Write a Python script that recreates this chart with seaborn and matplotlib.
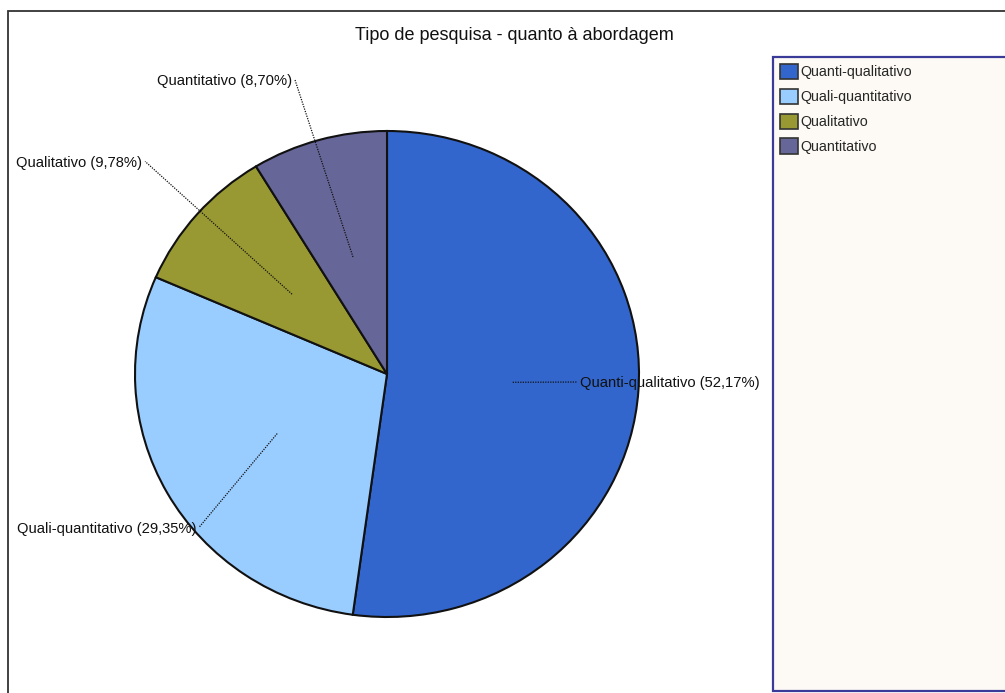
import matplotlib
matplotlib.use("Agg")
import matplotlib.pyplot as plt
from matplotlib.patches import Rectangle
import numpy as np
import seaborn as sns

sns.set_theme(style="white")
plt.rcParams["font.family"] = ["Liberation Sans", "DejaVu Sans"]

# Data
categories = ["Quanti-qualitativo", "Quali-quantitativo", "Qualitativo", "Quantitativo"]
percentages = [52.17, 29.35, 9.78, 8.70]
colors = ["#3366CC", "#99CCFF", "#999933", "#666699"]
title = "Tipo de pesquisa - quanto à abordagem"

# Label text anchors (axes data units, pie radius = 1) and alignment
label_pos = [(0.755, -0.033), (-0.745, -0.63), (-0.96, 0.875), (-0.365, 1.21)]
label_ha = ["left", "right", "right", "right"]

W, H = 1005, 693
fig = plt.figure(figsize=(W / 100, H / 100), dpi=100)
fig.patch.set_facecolor("white")

# Outer frame (left and top edges visible)
fig.add_artist(Rectangle((8 / W, -0.05), 1.1, (H - 11) / H + 0.05,
                         transform=fig.transFigure, fill=False,
                         edgecolor="#333333", linewidth=1.3))

# Pie axes: radius maps to ~252 px horizontally, ~243 px vertically
cx, cy, rx, ry = 387, 374, 252, 243
ax = fig.add_axes([(cx - rx) / W, (H - cy - ry) / H, 2 * rx / W, 2 * ry / H])
wedges, _ = ax.pie(percentages, colors=colors, startangle=90, counterclock=False,
                   wedgeprops=dict(edgecolor="#111111", linewidth=1.5),
                   normalize=True)
ax.set_aspect("auto")
ax.set_xlim(-1, 1)
ax.set_ylim(-1, 1)
ax.axis("off")

for w, cat, pct, (tx, ty), ha in zip(wedges, categories, percentages, label_pos, label_ha):
    mid = np.deg2rad((w.theta1 + w.theta2) / 2)
    px, py = 0.5 * np.cos(mid), 0.5 * np.sin(mid)
    txt = f"{cat} ({pct:.2f}%)".replace(".", ",")
    ax.plot([px, tx], [py, ty], linestyle=(0, (1, 1)), color="#111111",
            linewidth=0.9, clip_on=False)
    off = 0.012 if ha == "left" else -0.012
    ax.text(tx + off, ty - 0.006, txt, ha=ha, va="center", fontsize=10.6,
            color="#111111", clip_on=False)

fig.text(514 / W, 1 - 35 / H, title, ha="center", va="center",
         fontsize=13, color="#111111")

# Legend panel
fig.add_artist(Rectangle((773 / W, (H - 691) / H), (W - 773 + 20) / W, (691 - 57) / H,
                         transform=fig.transFigure, facecolor="#FDFAF5",
                         edgecolor="#3A3A99", linewidth=1.6, zorder=1))
handles = [plt.Rectangle((0, 0), 1, 1, facecolor=c, edgecolor="#333333", linewidth=1.2)
           for c in colors]
leg = fig.legend(handles, categories, loc="upper left",
                 bbox_to_anchor=(777 / W, 1 - 61 / H), frameon=False,
                 fontsize=10.3, handlelength=1.26, handleheight=1.26,
                 handletextpad=0.15, labelspacing=0.66, borderpad=0.2,
                 borderaxespad=0)
leg.set_zorder(3)

fig.savefig("out.png", dpi=100, facecolor="white")
